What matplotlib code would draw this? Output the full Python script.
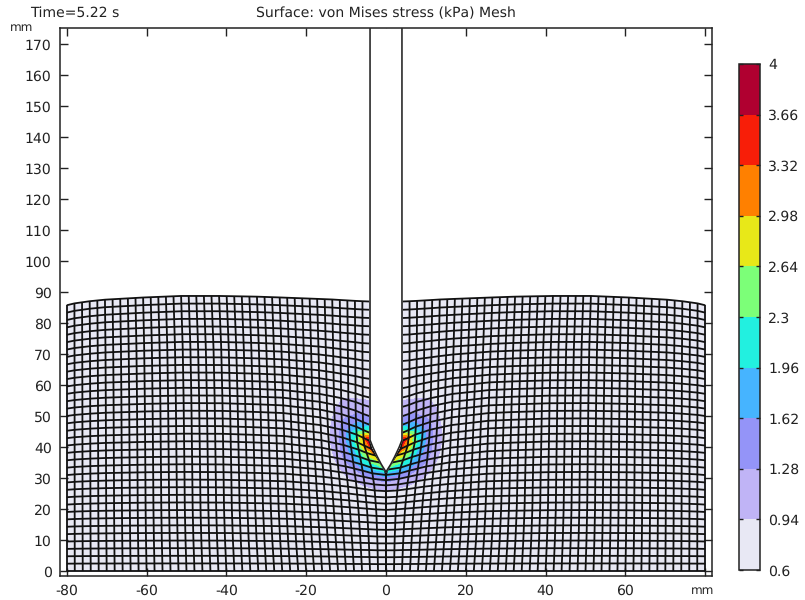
import numpy as np
import matplotlib
matplotlib.use("Agg")
import matplotlib.pyplot as plt
from matplotlib.collections import LineCollection
from matplotlib.colors import ListedColormap, BoundaryNorm
from matplotlib.tri import Triangulation

plt.rcParams["text.hinting"] = "no_hinting"
plt.rcParams["text.hinting_factor"] = 1

LEVELS = [0.6, 0.94, 1.28, 1.62, 1.96, 2.3, 2.64, 2.98, 3.32, 3.66, 4.0]
LEVEL_LABELS = ["0.6", "0.94", "1.28", "1.62", "1.96", "2.3", "2.64", "2.98", "3.32", "3.66", "4"]
BAND_COLORS = ["#E8E8F4", "#C0B4F6", "#9494F8", "#46B4FF", "#22F0E0",
               "#7CFF78", "#E8E818", "#FF8000", "#F81E08", "#B00030"]
XTICKS = [-80, -60, -40, -20, 0, 20, 40, 60, 80]
XTICK_LABELS = ["-80", "-60", "-40", "-20", "0", "20", "40", "60", ""]
YTICKS = list(range(0, 171, 10))

N_COLS = 40          # cells per half block, 2 mm wide
N_ROWS = 36          # cell rows

# free surface height against reference distance from the centre
SURF_X = [0, 4, 10, 20, 30, 40, 50, 60, 70, 74, 78, 80]
SURF_H = [87.2, 87.4, 87.8, 88.2, 88.6, 88.8, 88.8, 88.3, 87.6, 87.1, 86.4, 85.8]

# indenter half width against height
TOOL_Y = [32, 34.5, 37, 40, 42.3, 175]
TOOL_W = [0, 1.2, 2.2, 3.3, 4, 4]

# displacement tables
DISP_X = [0, 2, 4, 8, 14, 24, 40, 60, 80]
DOWN_Y = [0, 10, 20, 30, 38, 46, 54, 66, 78, 88]
DOWN = [[0, 0, 0, 0, 0, 0, 0, 0, 0],
        [.8, .8, .7, .6, .4, .2, .05, 0, 0],
        [1.8, 1.7, 1.5, 1.2, .8, .35, .1, 0, 0],
        [3.5, 3.3, 2.9, 2.1, 1.3, .5, .15, 0, 0],
        [6.0, 5.4, 4.4, 3.0, 1.7, .6, .1, 0, 0],
        [6.6, 5.6, 4.6, 3.2, 1.8, .6, .1, 0, 0],
        [6.0, 5.2, 4.2, 2.9, 1.6, .5, .1, 0, 0],
        [3.0, 2.8, 2.4, 1.9, 1.1, .4, .1, 0, 0],
        [1.0, 1.0, .9, .8, .5, .2, 0, 0, 0],
        [0, 0, 0, 0, 0, 0, 0, 0, 0]]
SIDE_Y = [0, 10, 20, 30, 38, 46, 54, 70, 88]
SIDE = [[0, 0, 0, 0, 0, 0, 0, 0, 0],
        [0, .15, .3, .5, .6, .55, .35, .15, 0],
        [0, .4, .7, 1.0, 1.1, .95, .6, .25, 0],
        [0, .9, 1.3, 1.6, 1.6, 1.2, .7, .3, 0],
        [0, 1.6, 2.1, 2.3, 2.0, 1.4, .8, .35, 0],
        [4, 3.6, 3.3, 2.9, 2.3, 1.6, .9, .4, 0],
        [4, 3.8, 3.6, 3.2, 2.6, 1.8, 1.0, .45, 0],
        [4, 3.9, 3.7, 3.4, 2.9, 2.2, 1.3, .6, 0],
        [4, 3.9, 3.8, 3.6, 3.3, 2.7, 1.9, .9, 0]]

# von Mises stress at mesh nodes near the tip; rows 12..25, columns 0..8 from centre
STRESS_FIRST_ROW = 12
BASE_STRESS = 0.7
STRESS = [[.92, .90, .88, .82, .76, .70, .70, .70, .70],
          [1.05, 1.02, 1.0, .95, .88, .78, .70, .70, .70],
          [1.4, 1.3, 1.2, 1.1, 1.0, .85, .72, .70, .70],
          [1.75, 1.65, 1.5, 1.3, 1.12, .95, .78, .70, .70],
          [2.2, 2.05, 1.85, 1.55, 1.3, 1.05, .82, .70, .70],
          [2.6, 2.4, 2.1, 1.7, 1.4, 1.1, .85, .70, .70],
          [3.0, 2.75, 2.3, 1.8, 1.42, 1.12, .88, .70, .70],
          [3.4, 3.0, 2.45, 1.85, 1.42, 1.12, .88, .70, .70],
          [4.0, 3.1, 2.3, 1.75, 1.38, 1.1, .85, .70, .70],
          [2.6, 2.1, 1.75, 1.5, 1.28, 1.02, .78, .70, .70],
          [1.7, 1.5, 1.38, 1.28, 1.12, .95, .75, .70, .70],
          [1.3, 1.25, 1.2, 1.1, 1.0, .88, .72, .70, .70],
          [1.1, 1.05, 1.02, .98, .90, .78, .70, .70, .70],
          [.85, .85, .82, .80, .75, .70, .70, .70, .70]]


def table(xq, yq, xs, ys, tab):
    tab = np.asarray(tab, float)
    by_y = np.array([np.interp(xq.ravel(), xs, row) for row in tab])
    out = np.empty(xq.size)
    for i, y in enumerate(yq.ravel()):
        out[i] = np.interp(y, ys, by_y[:, i])
    return out.reshape(xq.shape)


# reference nodes
col_idx = np.arange(N_COLS + 1)
row_idx = np.arange(N_ROWS + 1)
X_ref, K = np.meshgrid(col_idx * 2.0, row_idx)
Y_ref = K * 86.0 / N_ROWS

h = np.interp(X_ref.ravel(), SURF_X, SURF_H).reshape(X_ref.shape)
xx = X_ref + table(X_ref, Y_ref, DISP_X, SIDE_Y, SIDE)
yy = K / N_ROWS * h - table(X_ref, Y_ref, DISP_X, DOWN_Y, DOWN)
w = np.interp(yy.ravel(), TOOL_Y, TOOL_W, left=0).reshape(yy.shape)
xx = np.maximum(xx, w)

vals = np.full(xx.shape, BASE_STRESS)
st = np.array(STRESS)
vals[STRESS_FIRST_ROW:STRESS_FIRST_ROW + st.shape[0], :st.shape[1]] = st

# triangles of the structured mesh
nr, nc = xx.shape
tris = []
for r in range(nr - 1):
    for c in range(nc - 1):
        a, b, d, e = r * nc + c, r * nc + c + 1, (r + 1) * nc + c, (r + 1) * nc + c + 1
        tris += [[a, b, e], [a, e, d]]
tris = np.array(tris)

fig = plt.figure(figsize=(8.05, 6.0), dpi=100)
W, H = 805.0, 600.0
ax = fig.add_axes([60 / W, 1 - 576 / H, 652 / W, 548 / H])
cmap = ListedColormap(BAND_COLORS)
norm = BoundaryNorm(LEVELS, cmap.N)

TC = "#222222"
for sign in (-1, 1):
    tri = Triangulation((sign * xx).ravel(), yy.ravel(), tris)
    cf = ax.tricontourf(tri, vals.ravel(), levels=LEVELS, cmap=cmap, norm=norm)
    segs = [np.column_stack([sign * xx[r, :], yy[r, :]]) for r in range(nr)]
    segs += [np.column_stack([sign * xx[:, c], yy[:, c]]) for c in range(nc)]
    ax.add_collection(LineCollection(segs, colors="#111111", linewidths=1.3, zorder=3))

# indenter
tool_x = np.array([-w_ for w_ in TOOL_W[::-1]] + TOOL_W[1:])
tool_y = np.array(TOOL_Y[::-1] + TOOL_Y[1:])
ax.fill(tool_x, tool_y, color="white", zorder=4)
ax.plot(tool_x, tool_y, color="#222222", lw=1.15, zorder=5)

ax.set_xlim(-81.7, 81.7)
ax.set_ylim(-1.6, 175.3)
ax.set_xticks(XTICKS)
ax.set_xticklabels(XTICK_LABELS)
ax.set_yticks(YTICKS)
ax.tick_params(direction="in", length=5.5, width=1, top=True, right=True,
               labelsize=10.4, labelcolor=TC, color="#222222", pad=6)
for s in ax.spines.values():
    s.set_color("#222222")
    s.set_linewidth(1.1)
    s.set_zorder(6)

fig.text(30 / W, 1 - 13 / H, "Time=5.22 s", fontsize=10, color=TC, va="center", ha="left")
fig.text(386 / W, 1 - 13 / H, "Surface: von Mises stress (kPa) Mesh", fontsize=10, color=TC,
         va="center", ha="center")
fig.text(22 / W, 1 - 28 / H, "mm", fontsize=8.6, color=TC, va="center", ha="center")
fig.text(703 / W, 1 - 591 / H, "mm", fontsize=8.6, color=TC, va="center", ha="center")

# colour scale
cax = fig.add_axes([739 / W, 1 - 570 / H, 21 / W, 506 / H])
sm = plt.cm.ScalarMappable(norm=norm, cmap=cmap)
cb = fig.colorbar(sm, cax=cax, spacing="proportional", ticks=LEVELS)
cb.ax.set_yticklabels(LEVEL_LABELS)
cb.ax.minorticks_off()
cb.ax.tick_params(direction="in", length=3, width=1, left=True, right=True,
                  labelsize=10, labelcolor=TC, color="#222222", pad=6)
cb.outline.set_edgecolor("#222222")
cb.outline.set_linewidth(1.1)

fig.savefig("out.png", dpi=100)
